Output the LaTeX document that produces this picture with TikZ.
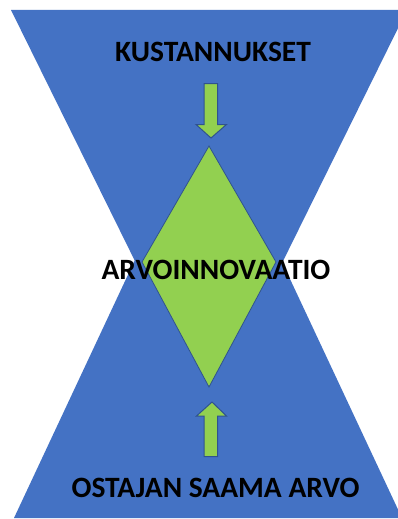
\documentclass[tikz,border=0pt]{standalone}
\usepackage{fontspec}
\setmainfont{Carlito}
\definecolor{tblue}{HTML}{4472C4}
\definecolor{tgreen}{HTML}{92D050}
\definecolor{tedge}{HTML}{2F528F}
\tikzset{
  funnel/.style={fill=tblue},
  gem/.style={fill=tgreen, draw=tedge, line width=0.8pt, line join=miter},
  blockarrow/.style={fill=tgreen, draw=tedge, line width=1pt, line join=miter},
  label/.style={font=\fontsize{29.5}{30}\selectfont\bfseries, text=black, inner sep=0pt, anchor=base}
}
\begin{document}
\begin{tikzpicture}[x=1pt,y=-1pt]
\useasboundingbox (0,0) rectangle (398,519);
\clip (0,0) rectangle (398,519);
\fill[white] (0,0) rectangle (398,519);
% funnels
\fill[funnel] (11,10) -- (407,10) -- (209,411) -- cycle;
\fill[funnel] (14,518) -- (208,104) -- (402,518) -- cycle;
% diamond
\coordinate (dT) at (209,146);
\coordinate (dB) at (209,387);
\coordinate (dL) at (142,262);
\coordinate (dR) at (276,262);
\draw[gem] (dT) -- (dR) -- (dB) -- (dL) -- cycle;
% top arrow
\draw[blockarrow] (204,83.5) -- (217.5,83.5) -- (217.5,124.5) -- (226.5,124.5) -- (211,138) -- (196,124.5) -- (204,124.5) -- cycle;
% bottom arrow
\draw[blockarrow] (204,456.5) -- (217.5,456.5) -- (217.5,416) -- (226.5,416) -- (212,402) -- (196.5,416) -- (204,416) -- cycle;
% labels
\node[label] (cost) at (213,62) {KUSTANNUKSET};
\node[label] (innov) at (216,279) {ARVOINNOVAATIO};
\node[label] (value) at (215.5,497) {OSTAJAN SAAMA ARVO};
\end{tikzpicture}
\end{document}
